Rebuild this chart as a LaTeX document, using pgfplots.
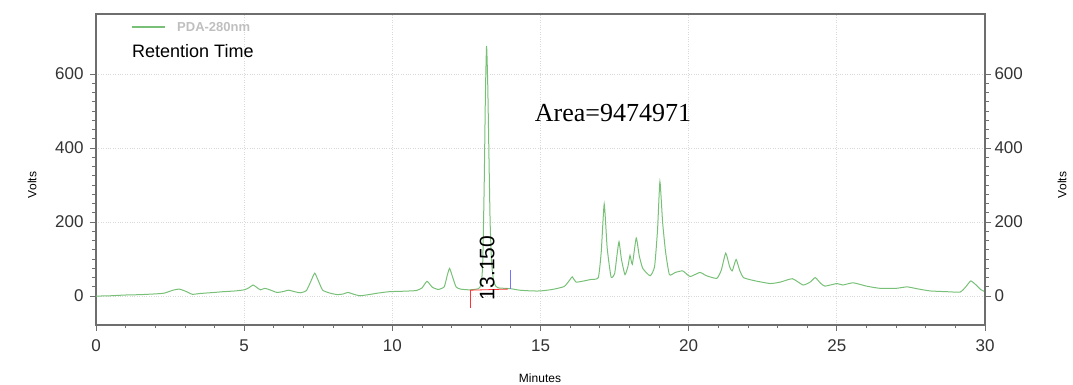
\documentclass[border=0pt]{standalone}
\usepackage{pgfplots}
\pgfplotsset{compat=1.18}
\usepackage{fontspec}
\setmainfont{Liberation Sans}
\newfontfamily\timesf{Liberation Serif}
\definecolor{trace}{RGB}{120,192,120}
\definecolor{axgray}{RGB}{110,110,110}
\pgfplotstableread{
t v
0 0
0.5 1
1.0 3
1.5 4
2.0 6
2.3 8
2.6 16
2.8 19
3.0 14
3.25 5
3.5 7
4.0 10
4.3 12
4.7 14
5.0 17
5.15 22
5.3 30
5.45 22
5.55 17
5.7 21
5.9 16
6.1 10
6.3 12
6.5 16
6.7 12
6.9 9
7.1 15
7.25 40
7.38 62
7.5 42
7.65 16
7.9 8
8.15 4
8.35 6
8.5 10
8.7 5
8.9 1
9.2 4
9.5 8
9.9 12
10.3 13
10.8 15
11.0 22
11.17 40
11.35 24
11.55 18
11.75 25
11.85 55
11.93 75
12.02 55
12.15 25
12.3 19
12.6 17
12.9 20
13.0 32
13.05 90
13.1 300
13.14 540
13.18 676
13.22 570
13.26 380
13.3 200
13.35 90
13.42 40
13.5 26
13.6 22
13.8 21
14.0 20
14.3 16
14.7 14
15.0 14
15.4 18
15.8 26
16.0 45
16.07 52
16.2 38
16.4 40
16.7 45
16.95 50
17.05 120
17.15 249
17.25 130
17.38 52
17.5 60
17.58 110
17.65 147
17.73 100
17.85 58
17.95 80
18.02 110
18.1 86
18.23 157
18.33 110
18.45 75
18.7 55
18.85 80
18.95 180
19.03 309
19.12 200
19.22 120
19.35 58
19.55 64
19.8 68
20.05 53
20.38 64
20.6 55
20.95 48
21.1 70
21.25 116
21.38 80
21.47 68
21.6 99
21.72 70
21.85 50
22.2 42
22.75 34
23.1 38
23.5 47
23.86 30
24.1 38
24.27 50
24.45 35
24.6 27
25.0 34
25.2 30
25.55 36
26.0 27
26.46 21
27.0 21
27.37 25
27.7 20
28.15 14
28.7 12
29.16 11
29.35 25
29.52 41
29.7 30
29.85 18
30.0 12
}\chrom
\begin{document}
\begin{tikzpicture}
\path[use as bounding box] (-96pt,-60pt) rectangle (977pt,325pt);
\pgfplotsset{
  chromaxis/.style={
    at={(0pt,0pt)}, anchor=south west,
    scale only axis, width=889pt, height=311pt,
    xmin=0, xmax=30, ymin=-78, ymax=762,
    xtick={0,5,...,30}, ytick={0,200,400,600},
    minor x tick num=4, minor y tick num=7,
    tick align=outside,
    major tick length=6pt, minor tick length=3.5pt,
    tick style={axgray, line width=0.8pt},
    axis line style={axgray, line width=1.2pt},
    ticklabel style={font=\fontsize{17}{20}\selectfont, text=black!80},
    /pgf/number format/assume math mode=true,
  }
}
\begin{axis}[chromaxis,
  xtick pos=bottom, ytick pos=left,
  grid=major, grid style={dotted, gray!30, line width=0.8pt},
  xticklabel style={yshift=-5pt},
  yticklabel style={xshift=-3pt},
]
\addplot[trace, line width=1pt, smooth, tension=0.3] table[x=t, y=v] {\chrom};
\addplot[red!80, line width=0.8pt] coordinates {(12.62,-32) (12.62,16)};
\addplot[red!80, line width=0.8pt] coordinates {(12.62,16) (13.9,19)};
\addplot[blue!55, line width=0.8pt] coordinates {(13.97,20) (13.97,70)};
\node[rotate=90, font=\fontsize{21}{24}\selectfont] at (axis cs:13.2,76) {13.150};
\end{axis}
\begin{axis}[chromaxis,
  axis x line=none, axis y line*=right,
  ytick pos=right, yticklabel pos=right,
]
\addplot[draw=none] coordinates {(0,0)};
\end{axis}
\draw[trace, line width=1.2pt] (36pt,298pt) -- (69pt,298pt);
\node[anchor=west, inner sep=0pt, font=\bfseries\fontsize{13}{15}\selectfont, text=gray!50] at (81pt,298pt) {PDA-280nm};
\node[anchor=west, inner sep=0pt, font=\fontsize{18}{21}\selectfont] at (36pt,274pt) {Retention Time};
\node[font=\timesf\fontsize{26}{30}\selectfont] at (517pt,212pt) {Area=9474971};
\node[rotate=90, font=\fontsize{12}{14}\selectfont] at (-64pt,140pt) {Volts};
\node[rotate=90, font=\fontsize{12}{14}\selectfont] at (966pt,140pt) {Volts};
\node[font=\fontsize{12}{14}\selectfont] at (444pt,-53pt) {Minutes};
\end{tikzpicture}
\end{document}
